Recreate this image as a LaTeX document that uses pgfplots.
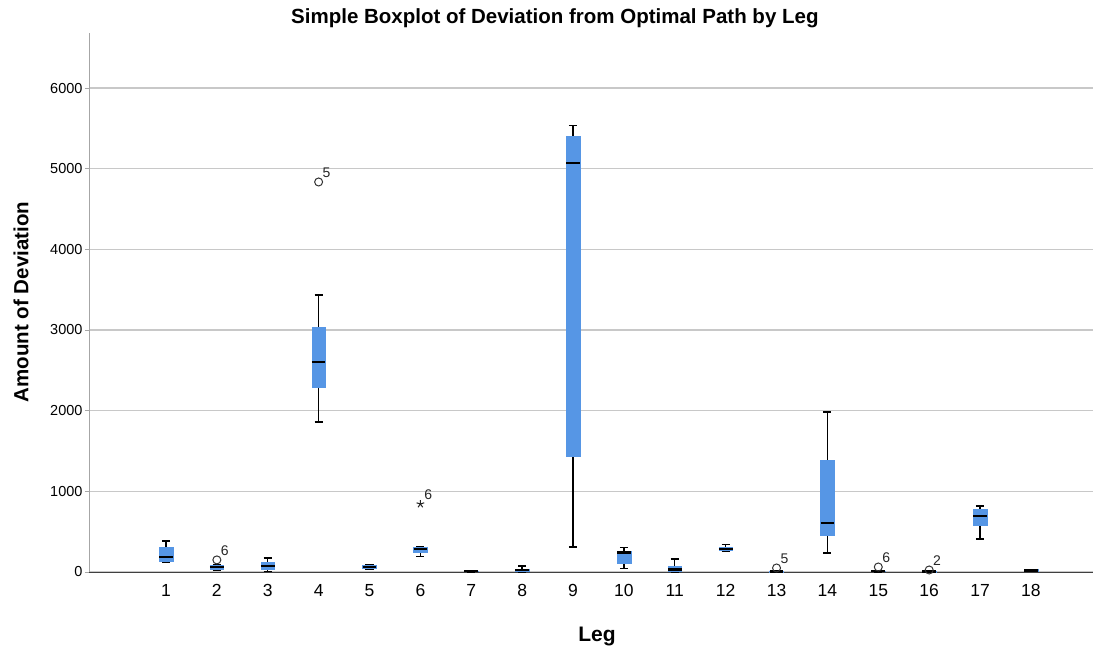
\documentclass[border=0pt]{standalone}
\usepackage{fontspec}
\setmainfont{Liberation Sans}
\usepackage{pgfplots}
\pgfplotsset{compat=1.18}
\usepgfplotslibrary{statistics}
\usetikzlibrary{calc}
\definecolor{boxblue}{RGB}{86,150,229}
\definecolor{gridgray}{RGB}{200,200,200}
\begin{document}
\begin{tikzpicture}
    \begin{axis}[
        scale only axis,
        width=1004pt, height=539pt,
        xmin=-0.513, xmax=19.22,
        ymin=0, ymax=6682,
        axis x line*=bottom, axis y line*=left,
        x axis line style={black!75, line width=1pt, -},
        y axis line style={gray!70, line width=1pt, -},
        xtick={1,...,18},
        ytick={0,1000,...,6000},
        xtick style={draw=none},
        ytick style={gray!70, line width=0.8pt},
        tick align=outside, major tick length=4pt,
        ymajorgrids=true,
        grid style={gridgray, line width=1.2pt},
        /pgf/number format/assume math mode=true,
        /pgf/number format/1000 sep={},
        scaled y ticks=false,
        yticklabel style={font=\fontsize{14.5}{14.5}\selectfont, xshift=1pt},
        xticklabel style={font=\fontsize{17.5}{17.5}\selectfont, yshift=-5pt},
        title={Simple Boxplot of Deviation from Optimal Path by Leg},
        title style={font=\bfseries\fontsize{20.5}{20.5}\selectfont,
            at={(axis description cs:0.464,1)}, anchor=center, yshift=9pt},
        xlabel={Leg},
        xlabel style={font=\bfseries\fontsize{21}{21}\selectfont,
            at={(axis description cs:0.506,-0.119)}, anchor=center},
        ylabel={Amount of Deviation},
        ylabel style={font=\bfseries\fontsize{20.5}{20.5}\selectfont,
            at={(axis description cs:-0.0677,0.501)}, anchor=center},
        boxplot/draw direction=y,
        boxplot/box extend=0.27,
        boxplot/whisker extend=0.16,
        boxplot/every box/.style={fill=boxblue, draw=boxblue, line width=0.5pt},
        boxplot/every whisker/.style={black, line width=1.3pt},
        boxplot/every median/.style={black, line width=2.5pt},
    ]
    % one box per leg: lower whisker, Q1, median, Q3, upper whisker
    \addplot[boxplot prepared={draw position=1, lower whisker=125, lower quartile=135, median=185, upper quartile=310, upper whisker=385}] coordinates {};
    \addplot[boxplot prepared={draw position=2, lower whisker=20, lower quartile=35, median=62, upper quartile=85, upper whisker=95}] coordinates {};
    \addplot[boxplot prepared={draw position=3, lower whisker=10, lower quartile=30, median=75, upper quartile=122, upper whisker=175}] coordinates {};
    \addplot[boxplot prepared={draw position=4, lower whisker=1860, lower quartile=2293, median=2603, upper quartile=3037, upper whisker=3434}] coordinates {};
    \addplot[boxplot prepared={draw position=5, lower whisker=35, lower quartile=45, median=62, upper quartile=80, upper whisker=90}] coordinates {};
    \addplot[boxplot prepared={draw position=6, lower whisker=190, lower quartile=250, median=285, upper quartile=305, upper whisker=320}] coordinates {};
    \addplot[boxplot prepared={draw position=7, lower whisker=0, lower quartile=5, median=10, upper quartile=15, upper whisker=20}] coordinates {};
    \addplot[boxplot prepared={draw position=8, lower whisker=0, lower quartile=5, median=22, upper quartile=40, upper whisker=75}] coordinates {};
    \addplot[boxplot prepared={draw position=9, lower whisker=310, lower quartile=1438, median=5070, upper quartile=5400, upper whisker=5535}] coordinates {};
    \addplot[boxplot prepared={draw position=10, lower whisker=40, lower quartile=110, median=240, upper quartile=262, upper whisker=300}] coordinates {};
    \addplot[boxplot prepared={draw position=11, lower whisker=0, lower quartile=5, median=30, upper quartile=70, upper whisker=160}] coordinates {};
    \addplot[boxplot prepared={draw position=12, lower whisker=255, lower quartile=265, median=285, upper quartile=305, upper whisker=340}] coordinates {};
    \addplot[boxplot prepared={draw position=13, lower whisker=0, lower quartile=2, median=5, upper quartile=10, upper whisker=15}] coordinates {};
    \addplot[boxplot prepared={draw position=14, lower whisker=235, lower quartile=450, median=605, upper quartile=1390, upper whisker=1985}] coordinates {};
    \addplot[boxplot prepared={draw position=15, lower whisker=0, lower quartile=5, median=10, upper quartile=15, upper whisker=20}] coordinates {};
    \addplot[boxplot prepared={draw position=16, lower whisker=0, lower quartile=2, median=4, upper quartile=6, upper whisker=8}] coordinates {};
    \addplot[boxplot prepared={draw position=17, lower whisker=410, lower quartile=580, median=695, upper quartile=780, upper whisker=820}] coordinates {};
    \addplot[boxplot prepared={draw position=18, lower whisker=5, lower quartile=10, median=20, upper quartile=30, upper whisker=35}] coordinates {};
    % outliers (circles) and extremes (stars), labelled with their case number
    \addplot[only marks, mark=o, mark size=4pt, black!80, line width=1pt,
        nodes near coords, point meta=explicit symbolic,
        nodes near coords style={anchor=south west, inner sep=0.5pt, xshift=3pt, yshift=3pt,
            font=\fontsize{14}{14}\selectfont, text=black!85}]
    table[meta=lab]{
        x y lab
        2 150 6
        4 4835 5
        13 50 5
        15 62 6
        16 25 2
    };
    \addplot[only marks, mark=star, mark size=4pt, black!85, line width=1pt,
        nodes near coords, point meta=explicit symbolic,
        nodes near coords style={anchor=south west, inner sep=0.5pt, xshift=3pt, yshift=3pt,
            font=\fontsize{14}{14}\selectfont, text=black!85}]
    table[meta=lab]{
        x y lab
        6 843 6
    };
    \end{axis}
    \path ($(current axis.south west)+(-89pt,-78pt)$) rectangle ($(current axis.north east)+(8pt,33pt)$);
\end{tikzpicture}
\end{document}
